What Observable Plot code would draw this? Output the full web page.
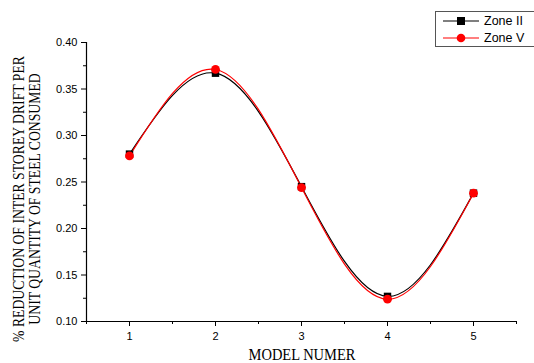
<!DOCTYPE html>
<html><head><meta charset="utf-8">
<script src="https://cdn.jsdelivr.net/npm/d3@7"></script>
<script src="https://cdn.jsdelivr.net/npm/@observablehq/plot@0.6"></script>
<style>
body{margin:0;background:#fff;}
#wrap{position:relative;width:534px;height:363px;overflow:hidden;}
#legend{position:absolute;left:435px;top:11px;width:110px;height:34px;border:1px solid #555;background:#fff;font-family:"Liberation Sans",Arial,sans-serif;font-size:12.5px;}
.li{position:absolute;left:0;height:16px;display:flex;align-items:center;}
.li svg{display:block}
.li span{margin-left:5px}
</style></head><body>
<div id="wrap"></div>
<script>
const models = [1, 2, 3, 4, 5];
const zoneII = [0.280, 0.367, 0.245, 0.127, 0.238];
const zoneV  = [0.278, 0.371, 0.244, 0.124, 0.238];
const yTicks = [0.10, 0.15, 0.20, 0.25, 0.30, 0.35, 0.40];
const yMinor = [0.125, 0.175, 0.225, 0.275, 0.325, 0.375];
const xMinor = [0.5, 1.5, 2.5, 3.5, 4.5, 5.5];
const seriesNames = ["Zone II", "Zone V"];

const dII = models.map((m,i)=>({x:m,y:zoneII[i]}));
const dV = models.map((m,i)=>({x:m,y:zoneV[i]}));

const font = "Liberation Sans, Arial, sans-serif";
const chart = Plot.plot({
  width: 534, height: 363,
  marginLeft: 86, marginRight: 18, marginTop: 42, marginBottom: 42,
  style: {fontFamily: font, fontSize: "11px", background: "#fff", overflow: "visible"},
  x: {domain: [0.5, 5.5]},
  y: {domain: [0.1, 0.4]},
  marks: [
    Plot.axisY({ticks: yTicks, tickFormat: d3.format(".2f"), tickSize: 5, tickPadding: 4, label: null, fontSize: 11}),
    Plot.axisY({ticks: yMinor, tickSize: 3, text: null, label: null}),
    Plot.axisX({ticks: models, tickFormat: d3.format("d"), tickSize: 5, tickPadding: 6, label: null, fontSize: 11}),
    Plot.axisX({ticks: xMinor, tickSize: 3, text: null, label: null}),
    Plot.ruleX([0.5], {stroke: "#000", strokeWidth: 1.2}),
    Plot.ruleY([0.1], {stroke: "#000", strokeWidth: 1.2}),
    Plot.line(dII, {x: "x", y: "y", curve: "natural", stroke: "#000", strokeWidth: 1.2}),
    Plot.line(dV, {x: "x", y: "y", curve: "natural", stroke: "#ff0000", strokeWidth: 1.2}),
    Plot.dot(dII, {x: "x", y: "y", symbol: "square", r: 4.2, fill: "#000", stroke: "none"}),
    Plot.dot(dV, {x: "x", y: "y", symbol: "circle", r: 4.4, fill: "#ff0000", stroke: "none"})
  ]
});
const wrap = document.getElementById("wrap");
wrap.appendChild(chart);

const svg = d3.select(chart);
const serif = "Liberation Serif, Times New Roman, serif";
const yl = svg.append("g").attr("font-family", serif).attr("font-size", 13.7).attr("fill", "#000").attr("text-anchor", "middle");
yl.append("text").attr("transform", "translate(23.5,199) rotate(-90) scale(1,1.2)").text("% REDUCTION OF INTER STOREY DRIFT PER");
yl.append("text").attr("transform", "translate(39.5,199) rotate(-90) scale(1,1.2)").text("UNIT QUANTITY OF STEEL CONSUMED");
svg.append("text").attr("transform", "translate(302,360) scale(1,1.2)").attr("font-family", serif).attr("font-size", 14.5).attr("text-anchor", "middle").text("MODEL NUMER");

// legend
const lg = document.createElement("div");
lg.id = "legend";
const items = [{name: seriesNames[0], color: "#000", sym: "square"}, {name: seriesNames[1], color: "#ff0000", sym: "circle"}];
items.forEach((it, i) => {
  const row = document.createElement("div");
  row.className = "li";
  row.style.top = (1 + i * 17) + "px";
  row.style.left = "7px";
  const s = d3.create("svg").attr("width", 36).attr("height", 14);
  s.append("line").attr("x1", 0).attr("x2", 36).attr("y1", 7).attr("y2", 7).attr("stroke", it.color).attr("stroke-width", 1.2);
  if (it.sym === "square") s.append("rect").attr("x", 14).attr("y", 3).attr("width", 8).attr("height", 8).attr("fill", it.color);
  else s.append("circle").attr("cx", 18).attr("cy", 7).attr("r", 4.3).attr("fill", it.color);
  row.appendChild(s.node());
  const t = document.createElement("span");
  t.textContent = it.name;
  row.appendChild(t);
  lg.appendChild(row);
});
wrap.appendChild(lg);
</script>
</body></html>
